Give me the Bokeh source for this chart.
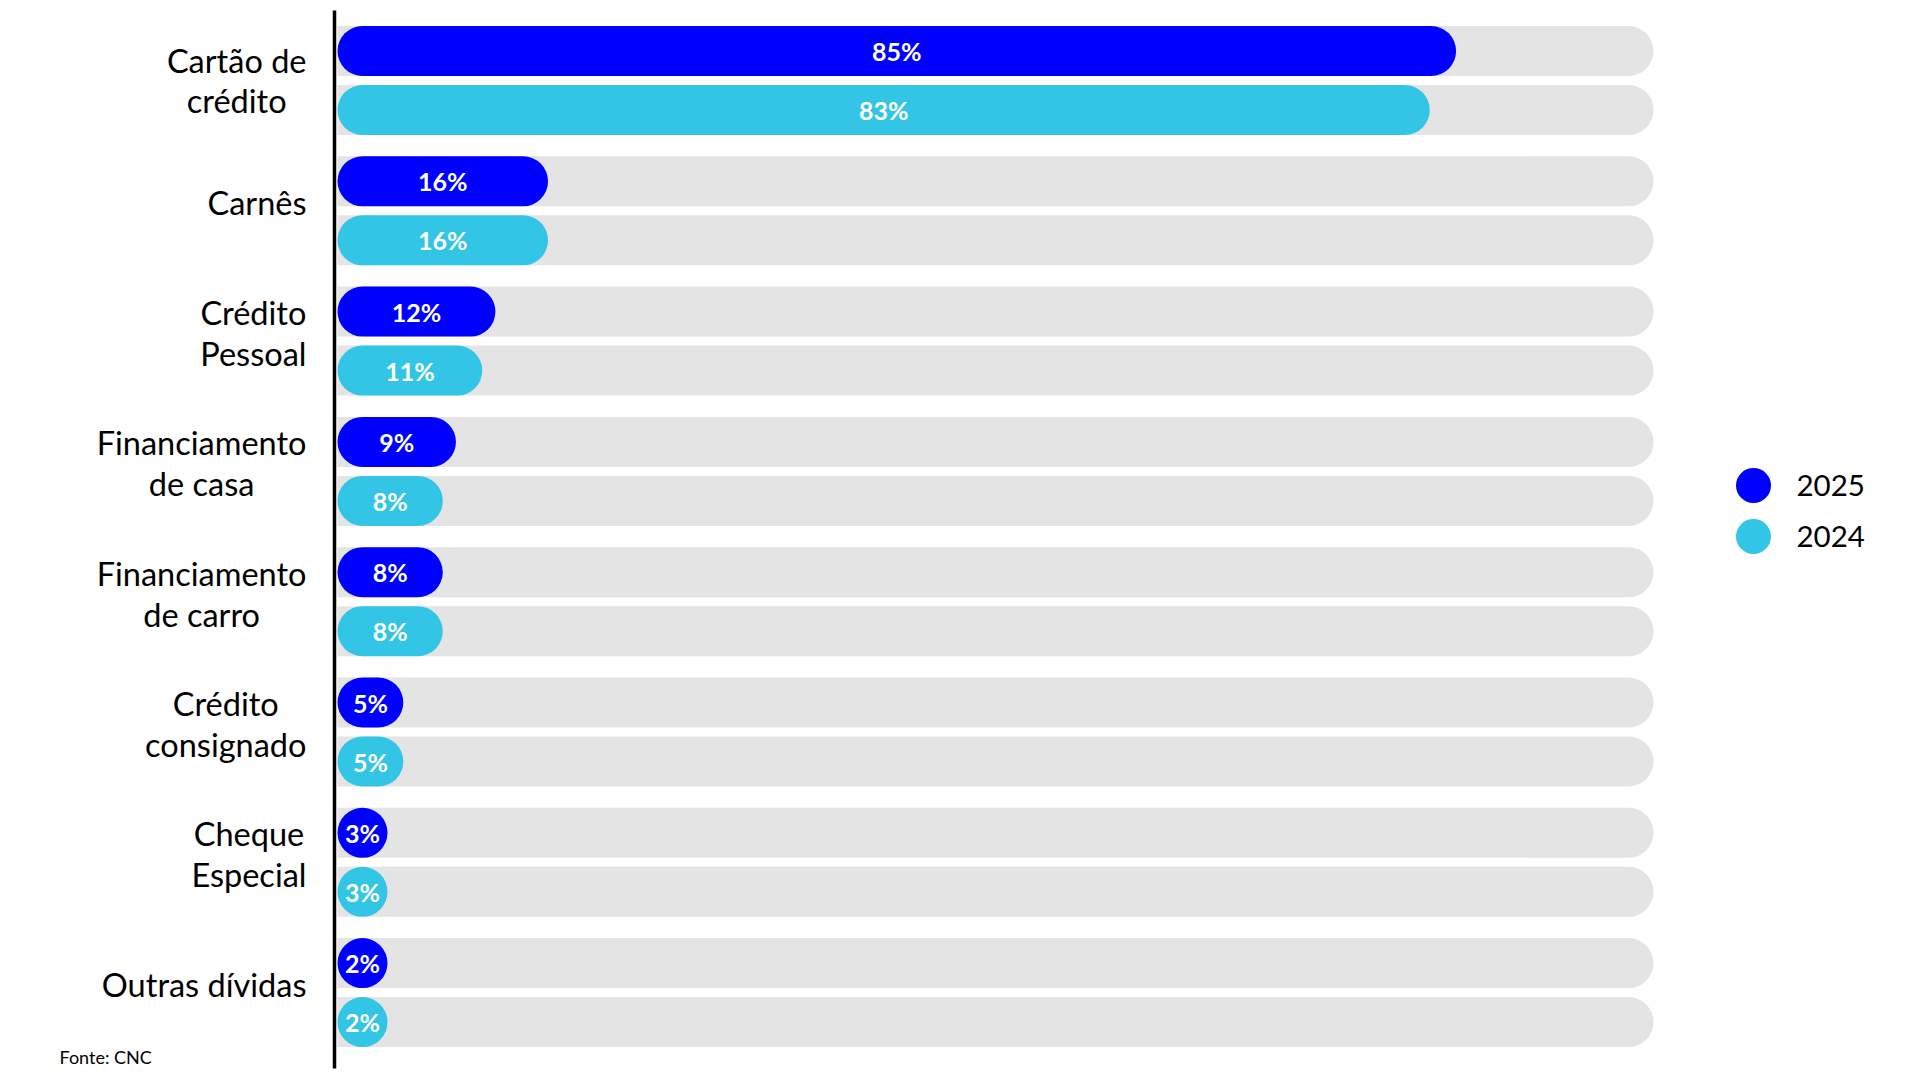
from bokeh.plotting import figure
from bokeh.models import Range1d, ColumnDataSource
from bokeh.core.properties import value
from bokeh.embed import file_html
from bokeh.resources import INLINE

# ---------------- data ----------------
categories = ["Cartão de\ncrédito", "Carnês", "Crédito\nPessoal", "Financiamento\nde casa",
              "Financiamento\nde carro", "Crédito\nconsignado", "Cheque\nEspecial", "Outras dívidas"]
values_2025 = [85, 16, 12, 9, 8, 5, 3, 2]
values_2024 = [83, 16, 11, 8, 8, 5, 3, 2]
series_names = ["2025", "2024"]
track_max = 100
source_note = "Fonte: CNC"

# ---------------- layout / style ----------------
W, H = 1920, 1080
PX_PER_PCT = 13.16      # pixels per percentage point
X0_PX = 337             # px where 0% sits
GROUP_PX = 130.3        # pixel pitch between categories
GROUP0_MID_PX = 80.0    # px of first category centre
BAR_PX = 50             # bar thickness in px
PAIR_OFF_PX = 29.5      # offset of each bar from the category centre
RADIUS = 25
LABEL_SHIFT_PX = [0, -8, -8, -8, -8, -8, -8, -8]   # vertical nudge of each category label

COL_2025 = "#0000FF"
COL_2024 = "#33C5E6"
COL_TRACK = "#E4E4E4"
FONT = "Lato"

x_start = -X0_PX / PX_PER_PCT
x_end = (W - X0_PX) / PX_PER_PCT
y_top = -GROUP0_MID_PX / GROUP_PX
y_bottom = y_top + H / GROUP_PX


def px_to_x(fx):
    return (fx - X0_PX) / PX_PER_PCT


def px_to_y(fy):
    return y_top + fy / GROUP_PX


bar_h = BAR_PX / GROUP_PX
off = PAIR_OFF_PX / GROUP_PX
min_w = BAR_PX / PX_PER_PCT   # pills never narrower than a circle

n = len(categories)
groups = list(range(n))

p = figure(width=W, height=H, x_range=Range1d(x_start, x_end), y_range=Range1d(y_bottom, y_top),
           output_backend="svg", toolbar_location=None, min_border=0,
           x_axis_location=None, y_axis_location=None, outline_line_color=None,
           background_fill_color="white", border_fill_color="white")
p.grid.visible = False

# tracks
for sgn in (-1, 1):
    src = ColumnDataSource(dict(y=[g + sgn * off for g in groups], right=[track_max] * n))
    p.hbar(y="y", left=0, right="right", height=bar_h, source=src, fill_color=COL_TRACK,
           line_color=None, border_radius=(0, RADIUS, RADIUS, 0))

# series bars
for vals, sgn, col in ((values_2025, -1, COL_2025), (values_2024, 1, COL_2024)):
    disp = [max(v, min_w) for v in vals]
    src = ColumnDataSource(dict(
        y=[g + sgn * off for g in groups],
        right=disp,
        mid=[d / 2 for d in disp],
        lab=[f"{v}%" for v in vals],
    ))
    p.hbar(y="y", left=0, right="right", height=bar_h, source=src, fill_color=col,
           line_color=None, border_radius=RADIUS)
    p.text(x="mid", y="y", text="lab", source=src, text_color="white",
           text_font=value(FONT), text_font_style="bold", text_font_size="25px",
           text_align="center", text_baseline="middle")

# category labels
cat_src = ColumnDataSource(dict(x=[px_to_x(306)] * n,
                                y=[g + s / GROUP_PX for g, s in zip(groups, LABEL_SHIFT_PX)],
                                t=categories))
p.text(x="x", y="y", text="t", source=cat_src, anchor="center_right", text_align="center",
       text_baseline="middle", text_line_height=1.05, text_color="black",
       text_font=value(FONT), text_font_size="32.5px")

# vertical axis line
p.segment(x0=px_to_x(334), y0=px_to_y(10), x1=px_to_x(334), y1=px_to_y(1068),
          line_color="black", line_width=3.5)

# legend
leg_y = [px_to_y(485), px_to_y(536)]
p.scatter(x=[px_to_x(1753)] * 2, y=leg_y, size=35, color=[COL_2025, COL_2024], line_color=None)
p.text(x=[px_to_x(1796)] * 2, y=leg_y, text=series_names, text_baseline="middle",
       text_align="left", text_font=value(FONT), text_font_size="29.5px", text_color="black")

# source note
p.text(x=[px_to_x(59)], y=[px_to_y(1056)], text=[source_note], text_baseline="middle",
       text_align="left", text_font=value(FONT), text_font_size="18px", text_color="black")

open("out.html", "w").write(file_html(p, INLINE))
